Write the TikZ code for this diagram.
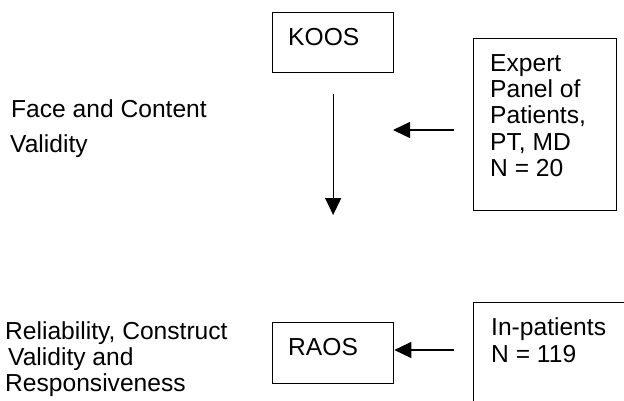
\documentclass[tikz,border=0pt]{standalone}
\usepackage{fontspec}
\setmainfont{Liberation Sans}
\usetikzlibrary{arrows.meta}
\begin{document}
\begin{tikzpicture}[x=1pt,y=-1pt,
  boxnode/.style={draw, line width=1.3pt, rectangle, inner sep=0pt, anchor=north west},
  txt/.style={anchor=base west, inner sep=0pt, font=\fontsize{24.6}{27}\selectfont},
  arr/.style={line width=1.3pt, -{Triangle[length=17pt,width=16pt]}}]
\useasboundingbox (0,0) rectangle (624,400);
\clip (0,0) rectangle (624,400);
% boxes
\node[boxnode, minimum width=121pt, minimum height=60pt] (koos) at (272,12) {};
\node[boxnode, minimum width=143pt, minimum height=172pt] (expert) at (473,38) {};
\node[boxnode, minimum width=121pt, minimum height=61pt] (raos) at (272,322) {};
\node[boxnode, minimum width=170pt, minimum height=120pt] (inpat) at (473,302) {};
% box texts
\node[txt] (koost) at (288,45) {KOOS};
\node[txt] (raost) at (288,355) {RAOS};
\node[txt] (ex1) at (490,71) {Expert};
\node[txt] (ex2) at (490,97) {Panel of};
\node[txt] (ex3) at (490,123) {Patients,};
\node[txt] (ex4) at (490,150) {PT, MD};
\node[txt] (ex5) at (490,176) {N = 20};
\node[txt] (ip1t) at (491,335) {In-patients};
\node[txt] (ip2t) at (491,362) {N = 119};
% left labels
\node[txt] (fc1) at (11,117) {Face and Content};
\node[txt] (fc2) at (10,152) {Validity};
\node[txt] (rc1) at (5,339) {Reliability, Construct};
\node[txt] (rc2) at (8,365) {Validity and};
\node[txt] (rc3) at (5,391) {Responsiveness};
% connectors
\draw[arr] ([yshift=-21pt]koos.south) -- ([yshift=107pt]raos.north);
\coordinate (e1) at (454,130);
\coordinate (e2) at (393,130);
\draw[arr] (e1) -- (e2);
\coordinate (r1) at (454,350);
\draw[arr] (r1) -- (raos.east |- r1);
\end{tikzpicture}
\end{document}
